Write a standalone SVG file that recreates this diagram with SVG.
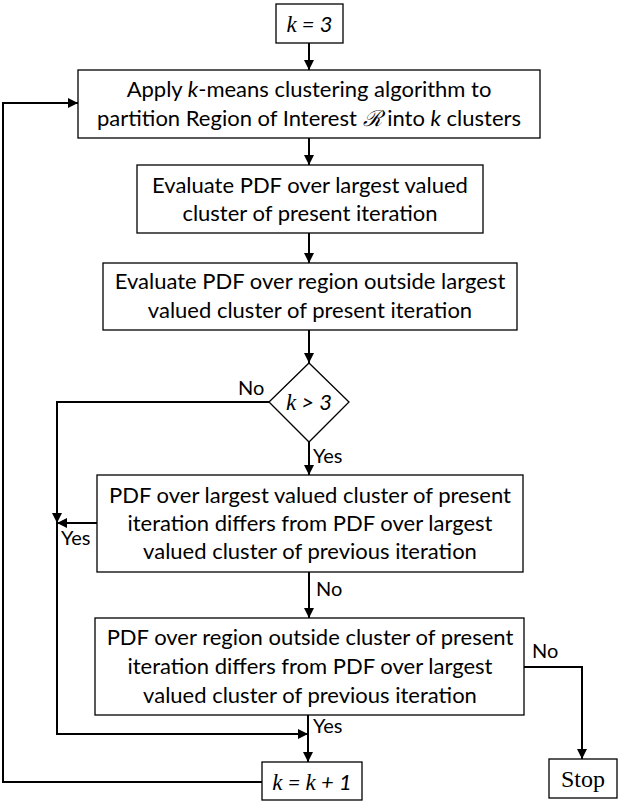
<svg xmlns="http://www.w3.org/2000/svg" width="622" height="809" viewBox="0 0 622 809">
<style>
.box{fill:#fff;stroke:#000;stroke-width:1.3}
.t{font-family:Lato,"Open Sans","Noto Sans",sans-serif;font-size:22px;fill:#000;text-anchor:middle}
.lbl{font-family:Lato,"Open Sans","Noto Sans",sans-serif;font-size:20px;fill:#000}
.m{font-family:"Liberation Serif","DejaVu Serif",serif;font-size:23px;font-style:italic;fill:#000;text-anchor:middle}
.s{font-family:"Liberation Serif","DejaVu Serif",serif;font-size:24px;fill:#000;text-anchor:middle}
.c{fill:none;stroke:#000;stroke-width:2}
</style>
<defs>
<marker id="ah" viewBox="0 0 10 10" refX="10" refY="5" markerWidth="10" markerHeight="10" markerUnits="userSpaceOnUse" orient="auto">
<path d="M0,0 L10,5 L0,10 z" fill="#000"/>
</marker>
</defs>
<g id="connectors">
<path class="c" d="M309,43 V70" marker-end="url(#ah)"/>
<path class="c" d="M309,138 V165" marker-end="url(#ah)"/>
<path class="c" d="M309,233 V263" marker-end="url(#ah)"/>
<path class="c" d="M309,330 V363" marker-end="url(#ah)"/>
<path class="c" d="M309,442 V475" marker-end="url(#ah)"/>
<path class="c" d="M269,402 H57 V523" marker-end="url(#ah)"/>
<path class="c" d="M57,523 V734 H308" marker-end="url(#ah)"/>
<path class="c" d="M97,523 H57" marker-end="url(#ah)"/>
<path class="c" d="M309,572 V618" marker-end="url(#ah)"/>
<path class="c" d="M524,667 H582 V759" marker-end="url(#ah)"/>
<path class="c" d="M308,715 V762" marker-end="url(#ah)"/>
<path class="c" d="M262,782 H3 V103 H78" marker-end="url(#ah)"/>
</g>
<g id="labels">
<text class="lbl" x="238" y="395">No</text>
<text class="lbl" x="313" y="463">Yes</text>
<text class="lbl" x="61" y="545">Yes</text>
<text class="lbl" x="316" y="596">No</text>
<text class="lbl" x="532" y="658">No</text>
<text class="lbl" x="313" y="733">Yes</text>
</g>
<g id="start">
<rect class="box" x="276" y="4" width="67" height="39"/>
<text class="m" x="309.5" y="32">k<tspan font-family="Lato,sans-serif" font-size="22px"> = 3</tspan></text>
</g>
<g id="kmeans">
<rect class="box" x="78" y="70" width="462" height="68"/>
<text class="t" x="309" y="97">Apply <tspan font-style="italic">k</tspan>-means clustering algorithm to</text>
<text class="t" x="309" y="126">partition Region of Interest <tspan font-family="'DejaVu Serif',serif" font-style="italic">ℛ</tspan> into <tspan font-style="italic">k</tspan> clusters</text>
</g>
<g id="evalIn">
<rect class="box" x="137" y="165" width="346" height="68"/>
<text class="t" x="310" y="193">Evaluate PDF over largest valued</text>
<text class="t" x="310" y="221">cluster of present iteration</text>
</g>
<g id="evalOut">
<rect class="box" x="103" y="263" width="414" height="67"/>
<text class="t" x="310" y="289">Evaluate PDF over region outside largest</text>
<text class="t" x="310" y="318">valued cluster of present iteration</text>
</g>
<g id="decision">
<polygon class="box" points="309,363 349,402 309,442 269,402"/>
<text class="m" x="309" y="410">k<tspan font-family="Lato,sans-serif" font-size="22px"> &gt; 3</tspan></text>
</g>
<g id="cmpIn">
<rect class="box" x="97" y="475" width="426" height="97"/>
<text class="t" x="310" y="503">PDF over largest valued cluster of present</text>
<text class="t" x="310" y="531">iteration differs from PDF over largest</text>
<text class="t" x="310" y="559">valued cluster of previous iteration</text>
</g>
<g id="cmpOut">
<rect class="box" x="95" y="618" width="429" height="97"/>
<text class="t" x="310" y="645">PDF over region outside cluster of present</text>
<text class="t" x="310" y="674">iteration differs from PDF over largest</text>
<text class="t" x="310" y="703">valued cluster of previous iteration</text>
</g>
<g id="increment">
<rect class="box" x="262" y="762" width="100" height="38"/>
<text class="m" x="312" y="790">k<tspan font-family="Lato,sans-serif" font-size="22px"> = </tspan>k<tspan font-family="Lato,sans-serif" font-size="22px"> + 1</tspan></text>
</g>
<g id="stop">
<rect class="box" x="549" y="759" width="68" height="39"/>
<text class="s" x="583" y="787">Stop</text>
</g>
</svg>
